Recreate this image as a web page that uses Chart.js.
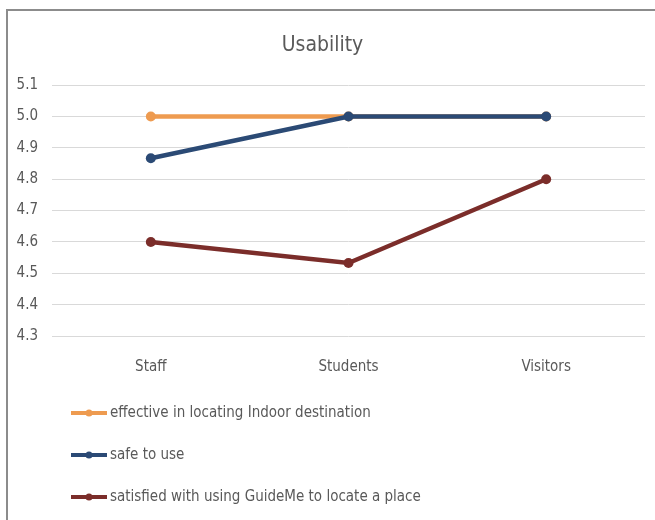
<!DOCTYPE html>
<html>
<head>
<meta charset="utf-8">
<script src="https://cdn.jsdelivr.net/npm/chart.js@4/dist/chart.umd.min.js"></script>
<style>
  html, body { margin: 0; padding: 0; background: #fff; overflow: hidden; }
  #wrap { position: relative; width: 655px; height: 520px; }
  #frame { position: absolute; left: 6px; top: 9px; width: 700px; height: 600px; border: 2px solid #8c8c8c; }
  #c { position: absolute; left: 0; top: 0; }
</style>
</head>
<body>
<div id="wrap">
  <div id="frame"></div>
  <canvas id="c" width="655" height="520"></canvas>
</div>
<script>
const categories = ['Staff', 'Students', 'Visitors'];
const effective = [5.0, 5.0, 5.0];
const safe = [4.867, 5.0, 5.0];
const satisfied = [4.6, 4.533, 4.8];
const seriesNames = [
  'effective in locating Indoor destination',
  'safe to use',
  'satisfied with using GuideMe to locate a place'
];
const yTicks = [4.3, 4.4, 4.5, 4.6, 4.7, 4.8, 4.9, 5.0, 5.1];

const FONT = "'Liberation Sans Narrow', 'DejaVu Sans Condensed', 'Liberation Sans', sans-serif";
const GREY = '#595959';

function series(label, data, color, order) {
  return {
    label, data, order,
    borderColor: color,
    backgroundColor: color,
    borderWidth: 4.5,
    pointRadius: 5,
    pointHoverRadius: 5,
    pointBorderWidth: 0,
    tension: 0
  };
}

// legend stacked vertically under the plot, drawn on the canvas
const stackedLegend = {
  id: 'stackedLegend',
  afterDraw(chart) {
    const ctx = chart.ctx;
    ctx.save();
    ctx.font = '15px ' + FONT;
    ctx.textBaseline = 'middle';
    chart.data.datasets.forEach((ds, i) => {
      const y = 413 + i * 42;
      ctx.strokeStyle = ds.borderColor;
      ctx.lineWidth = 4;
      ctx.beginPath();
      ctx.moveTo(71, y);
      ctx.lineTo(107, y);
      ctx.stroke();
      ctx.fillStyle = ds.borderColor;
      ctx.beginPath();
      ctx.arc(89, y, 3.5, 0, Math.PI * 2);
      ctx.fill();
      ctx.fillStyle = GREY;
      ctx.fillText(ds.label, 110, y);
    });
    ctx.restore();
  }
};

new Chart(document.getElementById('c'), {
  type: 'line',
  data: {
    labels: categories,
    datasets: [
      series(seriesNames[0], effective, '#EE9B50', 1),
      series(seriesNames[1], safe, '#2B4A75', 0),
      series(seriesNames[2], satisfied, '#7B2D2A', 2)
    ]
  },
  options: {
    responsive: false,
    animation: false,
    layout: { padding: { left: 0, right: 10, top: 0, bottom: 136 } },
    plugins: {
      legend: { display: false },
      tooltip: { enabled: false },
      title: {
        display: true,
        text: 'Usability',
        color: GREY,
        font: { family: FONT, size: 21, weight: 'normal' },
        padding: { top: 33, bottom: 27 }
      }
    },
    scales: {
      x: {
        offset: true,
        grid: { display: false, drawTicks: false, offset: true },
        border: { display: false },
        ticks: { color: GREY, font: { family: FONT, size: 15 }, padding: 22 },
        afterFit(s) { s.height = 48; }
      },
      y: {
        min: 4.3,
        max: 5.1,
        afterBuildTicks(s) { s.ticks = yTicks.map(v => ({ value: v })); },
        grid: { color: '#d9d9d9', lineWidth: 1, drawTicks: false },
        border: { display: false },
        ticks: {
          color: GREY,
          font: { family: FONT, size: 15 },
          padding: 14,
          callback: v => Number(v).toFixed(1)
        },
        afterFit(s) { s.width = 52; }
      }
    }
  },
  plugins: [stackedLegend]
});
</script>
</body>
</html>
